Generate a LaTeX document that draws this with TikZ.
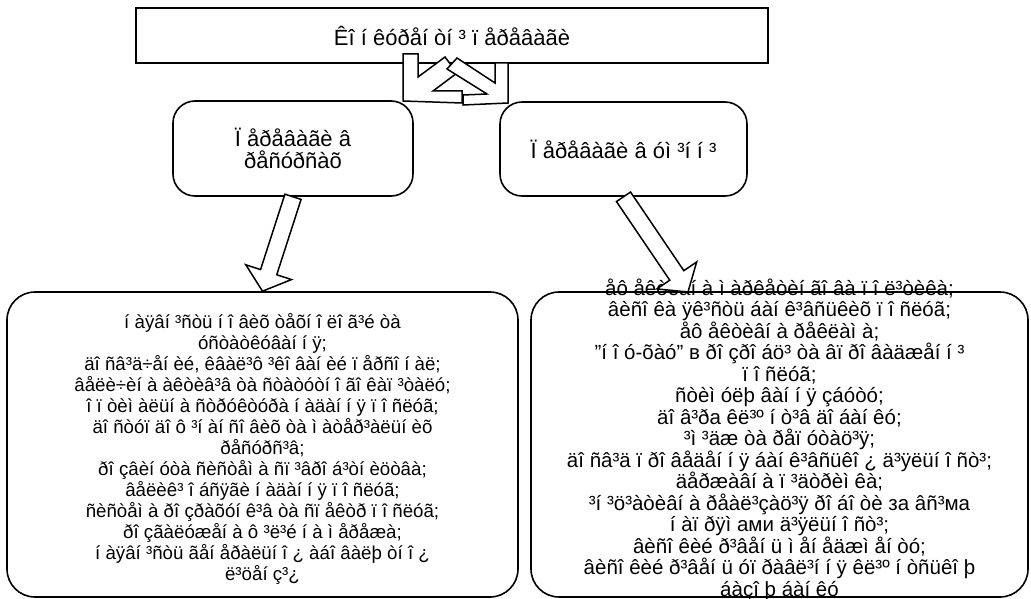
\documentclass[tikz,border=0pt]{standalone}
\usepackage{fontspec}
\setmainfont{Liberation Sans}
\usetikzlibrary{calc}
\newcommand{\blkarrow}[2]{%
  \path ($(#2)!20pt!(#1)$) coordinate (hb);
  \draw[line width=1.5pt,fill=white]
    ($(#1)!8.5pt!90:(#2)$) -- ($(hb)!8.5pt!90:(#2)$) -- ($(hb)!24pt!90:(#2)$) -- (#2)
    -- ($(hb)!24pt!-90:(#2)$) -- ($(hb)!8.5pt!-90:(#2)$) -- ($(#1)!8.5pt!-90:(#2)$) -- cycle;}

\begin{document}
\begin{tikzpicture}[x=1pt,y=-1pt,
    every node/.style={font=\fontsize{18.7}{21}\selectfont,align=center,inner sep=0pt},
    box/.style={draw,line width=1.6pt,fill=white},
    head/.style={font=\fontsize{22}{22}\selectfont}]
    \useasboundingbox (0,0) rectangle (1031,599);

    \node (1) [box,head,minimum width=632pt,minimum height=55pt] at (452,35.5) {Êî í êóðåí òí ³ ï åðåâàãè};
    \node (2) [box,head,rounded corners=22pt,minimum width=240pt,minimum height=95pt] at (293,148.5) {Ï åðåâàãè â\\ðåñóðñàõ};
    \node (3) [box,head,rounded corners=22pt,minimum width=247pt,minimum height=94pt] at (623.5,149) {Ï åðåâàãè â óì ³í í ³};
    \node (4) [box,rounded corners=28pt,minimum width=511pt,minimum height=305pt] at (262.5,444.5) {};
    \node (5) [box,rounded corners=28pt,minimum width=497pt,minimum height=305pt] at (779.5,444.5) {};

    \node (4a) at (262.5,449) {í àÿâí ³ñòü í î âèõ òåõí î ëî ã³é òà\\
      óñòàòêóâàí í ÿ;\\
      äî ñâ³ä÷åí èé, êâàë³ô ³êî âàí èé ï åðñî í àë;\\
      âåëè÷èí à àêòèâ³â òà ñòàòóòí î ãî êàï ³òàëó;\\
      î ï òèì àëüí à ñòðóêòóðà í àäàí í ÿ ï î ñëóã;\\
      äî ñòóï äî ô ³í àí ñî âèõ òà ì àòåð³àëüí èõ\\
      ðåñóðñ³â;\\
      ðî çâèí óòà ñèñòåì à ñï ³âðî á³òí èöòâà;\\
      âåëèê³ î áñÿãè í àäàí í ÿ ï î ñëóã;\\
      ñèñòåì à ðî çðàõóí ê³â òà ñï åêòð ï î ñëóã;\\
      ðî çãàëóæåí à ô ³ë³é í à ì åðåæà;\\
      í àÿâí ³ñòü ãåí åðàëüí î ¿ àáî âàëþ òí î ¿\\
      ë³öåí ç³¿};
    \node (5a) [font=\fontsize{20.5}{21.5}\selectfont] at (779.5,439.5) {åô åêòèâí à ì àðêåòèí ãî âà ï î ë³òèêà;\\
      âèñî êà ÿê³ñòü áàí ê³âñüêèõ ï î ñëóã;\\
      åô åêòèâí à ðåêëàì à;\\
      "í î ó-õàó" в ðî çðî áö³ òà âï ðî âàäæåí í ³\\
      ï î ñëóã;\\
      ñòèì óëþ âàí í ÿ çáóòó;\\
      äî â³ðа êë³º í ò³â äî áàí êó;\\
      ³ì ³äæ òà ðåï óòàö³ÿ;\\
      äî ñâ³ä ï ðî âåäåí í ÿ áàí ê³âñüêî ¿ ä³ÿëüí î ñò³;\\
      äåðæàâí à ï ³äòðèì êà;\\
      ³í ³ö³àòèâí à ðåàë³çàö³ÿ ðî áî òè за âñ³ма\\
      í àï ðÿì ами ä³ÿëüí î ñò³;\\
      âèñî êèé ð³âåí ü ì åí åäæì åí òó;\\
      âèñî êèé ð³âåí ü óï ðàâë³í í ÿ êë³º í òñüêî þ\\
      áàçî þ áàí êó};

    % arrows between the top box and the two middle boxes
    \draw[line width=1.5pt,fill=white] (403,101) -- (403,54) -- (418,54) -- (418,77) -- (445,57)
      -- (457,73) -- (433,91) -- (462,91) -- (462,103) -- cycle;
    \draw[line width=1.5pt,fill=white] (508,103) -- (508,63) -- (495,63) -- (495,83) -- (457,58)
      -- (447,69) -- (487,94) -- (463,95) -- (463,105) -- cycle;

    \coordinate (5in) at (688,292);
    \blkarrow{2.south}{4.north}
    \blkarrow{3.south}{5in}
\end{tikzpicture}
\end{document}
